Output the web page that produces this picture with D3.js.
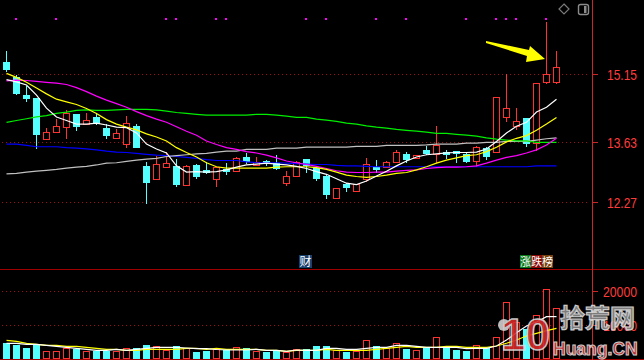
<!DOCTYPE html>
<html>
<head>
<meta charset="utf-8">
<script src="https://cdn.jsdelivr.net/npm/d3@7"></script>
<style>
  html, body { margin: 0; padding: 0; background: #000; }
  svg { display: block; }
</style>
</head>
<body>
<script>
// ---------------- DATA ----------------
const open  = [15.43,15.08,14.68,14.62,13.70,13.86,13.97,14.26,14.03,14.19,13.94,13.72,13.58,13.98,13.09,12.79,13.07,13.09,12.65,13.10,13.00,12.80,13.03,12.97,13.29,13.12,13.20,13.15,12.70,12.87,13.24,13.04,12.87,12.37,12.68,12.53,12.79,13.07,13.06,13.17,13.35,13.27,13.45,13.35,13.41,13.42,13.36,13.19,13.49,13.41,14.20,13.98,14.16,13.60,14.98,14.98];
const high  = [15.67,15.13,14.89,14.62,13.94,14.15,14.35,14.26,14.28,14.25,14.03,13.93,14.21,14.03,13.18,13.31,13.40,13.24,13.10,13.13,13.18,13.06,13.15,13.28,13.39,13.28,13.22,13.33,12.97,13.21,13.24,13.09,12.90,12.59,12.71,12.68,13.27,13.22,13.19,13.45,13.41,13.33,13.54,13.99,13.45,13.42,13.40,13.53,13.52,14.63,15.15,14.39,14.16,14.95,16.32,15.67];
const low   = [15.22,14.71,14.56,13.50,13.70,13.86,13.69,13.90,14.03,14.03,13.72,13.69,13.50,13.52,12.26,12.79,13.07,12.64,12.65,12.81,12.92,12.61,12.90,12.97,13.15,13.11,13.11,13.01,12.64,12.87,12.96,12.77,12.37,12.37,12.53,12.53,12.72,12.96,13.06,13.17,13.17,13.24,13.36,13.15,13.27,13.17,13.18,13.07,13.25,13.41,14.08,13.90,13.54,13.43,14.93,14.93];
const close = [15.27,14.74,14.62,13.81,13.85,13.99,14.28,13.99,14.12,14.05,13.78,13.83,14.05,13.52,12.73,13.13,13.15,12.68,13.09,12.86,12.95,13.06,12.97,13.27,13.21,13.17,13.15,13.04,12.86,13.18,13.11,12.82,12.46,12.59,12.61,12.68,13.13,13.02,13.17,13.40,13.24,13.33,13.38,13.56,13.35,13.37,13.21,13.51,13.31,14.63,14.39,14.10,13.60,14.95,15.15,15.31];
const volume = [4710,4210,3320,4410,2440,2440,3240,2940,2440,2440,2530,2440,3240,3320,4210,3910,2740,3910,3240,2240,2530,3030,2740,3530,3240,2530,2240,2530,2060,2940,2940,3910,3910,2740,2150,2440,5590,3910,3320,4790,3030,2740,3240,6470,3530,2740,2440,4120,3240,6470,16770,10970,9000,13000,20590,15000];

const ma5   = [15.03,14.98,14.91,14.68,14.39,14.19,14.11,14.03,14.03,14.05,14.01,13.96,13.95,13.83,13.58,13.47,13.38,13.09,12.95,12.96,12.95,12.96,13.00,13.06,13.11,13.13,13.15,13.13,13.11,13.08,13.03,12.96,12.90,12.80,12.70,12.67,12.75,12.86,12.97,13.09,13.20,13.29,13.34,13.36,13.38,13.39,13.39,13.40,13.47,13.64,13.83,13.98,14.07,14.30,14.41,14.59];
const ma10  = [15.17,15.08,14.97,14.84,14.71,14.59,14.53,14.47,14.38,14.27,14.13,14.03,13.96,13.90,13.81,13.74,13.65,13.50,13.39,13.29,13.16,13.07,13.04,13.04,13.04,13.04,13.04,13.06,13.07,13.07,13.07,13.05,13.01,12.95,12.88,12.85,12.83,12.85,12.88,12.92,12.94,13.00,13.07,13.15,13.22,13.27,13.32,13.34,13.41,13.51,13.63,13.71,13.77,13.89,14.03,14.18];
const ma20  = [15.00,15.02,15.01,14.99,14.97,14.95,14.92,14.85,14.76,14.66,14.57,14.49,14.41,14.31,14.22,14.14,14.07,13.97,13.87,13.78,13.65,13.57,13.50,13.46,13.41,13.38,13.33,13.27,13.20,13.16,13.12,13.08,13.03,12.98,12.95,12.94,12.94,12.95,12.95,12.97,12.99,13.00,13.03,13.05,13.06,13.06,13.07,13.09,13.15,13.22,13.28,13.32,13.38,13.45,13.56,13.71];
const ma60  = [14.07,14.11,14.15,14.19,14.22,14.27,14.30,14.34,14.35,14.34,14.34,14.35,14.36,14.36,14.36,14.35,14.32,14.29,14.27,14.25,14.23,14.23,14.23,14.23,14.23,14.25,14.25,14.23,14.21,14.18,14.18,14.14,14.12,14.09,14.05,14.03,13.99,13.96,13.94,13.91,13.89,13.87,13.85,13.82,13.82,13.80,13.78,13.76,13.72,13.69,13.67,13.65,13.65,13.62,13.62,13.62];
const ma120 = [12.91,12.92,12.95,12.97,12.99,13.01,13.04,13.06,13.08,13.11,13.15,13.16,13.19,13.22,13.24,13.26,13.30,13.32,13.34,13.36,13.37,13.40,13.42,13.42,13.46,13.46,13.46,13.49,13.49,13.49,13.51,13.51,13.51,13.51,13.51,13.53,13.53,13.53,13.55,13.55,13.55,13.55,13.56,13.58,13.58,13.58,13.60,13.60,13.62,13.62,13.64,13.64,13.64,13.67,13.70,13.72];
const ma250 = [13.58,13.58,13.55,13.52,13.52,13.52,13.50,13.49,13.47,13.45,13.42,13.40,13.39,13.37,13.35,13.33,13.32,13.30,13.28,13.26,13.23,13.21,13.21,13.21,13.18,13.16,13.16,13.16,13.15,13.14,13.13,13.12,13.12,13.10,13.09,13.09,13.08,13.07,13.07,13.07,13.07,13.07,13.07,13.07,13.07,13.07,13.07,13.07,13.07,13.07,13.07,13.07,13.07,13.09,13.09,13.09];

const volMa5  = [4706,4706,4412,4412,4118,3824,3529,3235,2941,2647,2647,2941,2647,2941,3235,3529,3529,3529,3324,3118,3118,2882,2735,2735,2735,2941,2647,2647,2353,2735,2647,2647,3235,3235,2941,2941,3235,3529,3529,4118,4118,3824,3529,3529,3529,3529,3118,3235,3235,3912,5676,7823,9794,10970,12529,12529];
const volMa10 = [5588,5294,4706,4412,4118,4118,3824,3824,3529,3235,2941,2941,2647,2647,2941,2941,2941,2941,3235,3235,2941,3235,2941,2941,2941,2941,2647,2647,2353,2647,2647,2647,2941,2647,2647,2647,2647,2941,3235,3529,3824,3529,3529,3529,3824,3824,3529,3529,3529,3912,4706,5676,6853,7647,8412,9118];

const priceTicks = [15.15, 13.63, 12.27];
const priceTickLabels = ["15.15", "13.63", "12.27"];
const volTicks = [20000, 10000];
const volTickLabels = ["20000", "10000"];
const markerIdx = [1,5,16,17,21,22,30,32,37,40,46,49,50,51,54];

// ---------------- SETUP ----------------
const W = 644, H = 360;
const svg = d3.select("body").append("svg").attr("width", W).attr("height", H)
  .style("background", "#000");
svg.append("rect").attr("width", W).attr("height", H).attr("fill", "#000");

const n = close.length;
const x = d3.scaleLinear().domain([0, n - 1]).range([6.5, 556.5]);
const yP = d3.scaleLinear().domain([12.27, 15.15]).range([202.3, 74.3]);
const yV = d3.scaleLinear().domain([0, 20000]).range([359.3, 291.3]);
const px = v => Math.round(v) + 0.5;

const RED = "#ff3232", CYAN = "#54ffff";
const GRID = "#a01010";

// gridlines (dotted)
const grid = svg.append("g");
priceTicks.forEach(t => {
  grid.append("line").attr("x1", 2).attr("x2", 590).attr("y1", px(yP(t))).attr("y2", px(yP(t)))
    .attr("stroke", GRID).attr("stroke-dasharray", "1,3");
});
volTicks.forEach(t => {
  grid.append("line").attr("x1", 2).attr("x2", 590).attr("y1", px(yV(t))).attr("y2", px(yV(t)))
    .attr("stroke", GRID).attr("stroke-dasharray", "1,3");
});

// ---------------- CANDLES ----------------
const data = d3.range(n).map(i => ({i, o: open[i], h: high[i], l: low[i], c: close[i], v: volume[i]}));
const cg = svg.append("g");
data.forEach(d => {
  const cx = x(d.i);
  const up = d.c >= d.o;
  const yH = Math.round(yP(d.h)), yL = Math.round(yP(d.l));
  const yTop = Math.round(yP(Math.max(d.o, d.c))), yBot = Math.round(yP(Math.min(d.o, d.c)));
  if (up) {
    if (yH < yTop) cg.append("line").attr("x1", cx).attr("x2", cx).attr("y1", yH).attr("y2", yTop).attr("stroke", RED);
    if (yL > yBot) cg.append("line").attr("x1", cx).attr("x2", cx).attr("y1", yBot).attr("y2", yL).attr("stroke", RED);
    cg.append("rect").attr("x", cx - 3).attr("y", yTop + 0.5).attr("width", 6).attr("height", Math.max(1, yBot - yTop))
      .attr("fill", "#000").attr("stroke", RED);
  } else {
    cg.append("line").attr("x1", cx).attr("x2", cx).attr("y1", yH).attr("y2", yL + 1).attr("stroke", CYAN);
    cg.append("rect").attr("x", cx - 3.5).attr("y", yTop).attr("width", 7).attr("height", Math.max(2, yBot - yTop + 1))
      .attr("fill", CYAN);
  }
});

// ---------------- MA LINES ----------------
const lineP = arr => d3.line().x((d, i) => x(i)).y(d => yP(d))(arr);
const lg = svg.append("g").attr("fill", "none").attr("stroke-width", 1.2);
[[ma250, "#0000ff"], [ma120, "#c0c0c0"], [ma60, "#00ee00"], [ma20, "#ff00ff"], [ma10, "#ffff00"], [ma5, "#ffffff"]]
  .forEach(([arr, col]) => lg.append("path").attr("d", lineP(arr)).attr("stroke", col));

// ---------------- VOLUME ----------------
const vg = svg.append("g");
data.forEach(d => {
  const cx = x(d.i);
  const up = d.c >= d.o;
  const yt = Math.round(yV(d.v));
  if (up) {
    vg.append("rect").attr("x", cx - 3).attr("y", yt + 0.5).attr("width", 6).attr("height", 358 - yt)
      .attr("fill", "#000").attr("stroke", RED);
  } else {
    vg.append("rect").attr("x", cx - 3.5).attr("y", yt).attr("width", 7).attr("height", 359 - yt).attr("fill", CYAN);
  }
});
const lineV = arr => d3.line().x((d, i) => x(i)).y(d => yV(d))(arr);
vg.append("path").attr("d", lineV(volMa10)).attr("stroke", "#ffff00").attr("fill", "none").attr("stroke-width", 1.2);
vg.append("path").attr("d", lineV(volMa5)).attr("stroke", "#ffffff").attr("fill", "none").attr("stroke-width", 1.2);

// ---------------- FRAME & AXES ----------------
svg.append("line").attr("x1", 0).attr("x2", W).attr("y1", 269.5).attr("y2", 269.5).attr("stroke", "#a00000");
svg.append("line").attr("x1", 0).attr("x2", W).attr("y1", 359.5).attr("y2", 359.5).attr("stroke", "#a00000");
svg.append("line").attr("x1", 592.5).attr("x2", 592.5).attr("y1", 0).attr("y2", H).attr("stroke", "#c82828");

const ax = svg.append("g").attr("font-family", "'Liberation Sans', Arial, sans-serif").attr("font-size", 14).attr("fill", "#ff3c3c");
priceTicks.forEach((t, k) => {
  const y = px(yP(t));
  ax.append("line").attr("x1", 592).attr("x2", 598).attr("y1", y).attr("y2", y).attr("stroke", "#c82828");
  ax.append("text").attr("x", 607).attr("y", y + 5).attr("textLength", 30).attr("lengthAdjust", "spacingAndGlyphs").text(priceTickLabels[k]);
});
volTicks.forEach((t, k) => {
  const y = px(yV(t));
  ax.append("line").attr("x1", 592).attr("x2", 598).attr("y1", y).attr("y2", y).attr("stroke", "#c82828");
  ax.append("text").attr("x", 603).attr("y", y + 5).attr("textLength", 34).attr("lengthAdjust", "spacingAndGlyphs").text(volTickLabels[k]);
});

// ---------------- MARKERS ----------------
markerIdx.forEach(i => {
  svg.append("rect").attr("x", Math.floor(x(i)) - 1).attr("y", 18).attr("width", 2).attr("height", 2).attr("fill", "#ff00ff");
});

// arrow
svg.append("polygon")
  .attr("points", "486,41 529,50 530,46 545,59 526,62 527,56 486,43")
  .attr("fill", "#ffff00");

// icons top-right
svg.append("path").attr("d", "M564,4 L569,9 L564,14 L559,9 Z").attr("fill", "none").attr("stroke", "#7a7a7a").attr("stroke-width", 1.2);
svg.append("rect").attr("x", 578.5).attr("y", 4.5).attr("width", 10).attr("height", 10).attr("rx", 2).attr("fill", "none").attr("stroke", "#8a8a8a").attr("stroke-width", 1.4);
svg.append("rect").attr("x", 584).attr("y", 6).attr("width", 2.5).attr("height", 7).attr("fill", "#8a8a8a");

// event labels
const cjk = "'Noto Sans CJK SC', sans-serif";
svg.append("rect").attr("x", 299).attr("y", 255).attr("width", 13).attr("height", 13).attr("fill", "#17406e");
svg.append("text").attr("x", 305.5).attr("y", 266).attr("text-anchor", "middle").attr("font-family", cjk).attr("font-size", 12).attr("fill", "#fff").text("财");
const tagCols = ["#0a7a1a", "#8a0a0a", "#7a4010"];
const tagChars = ["涨", "跌", "榜"];
tagChars.forEach((ch, k) => {
  svg.append("rect").attr("x", 520 + k * 11).attr("y", 255).attr("width", 11).attr("height", 13).attr("fill", tagCols[k]);
  svg.append("text").attr("x", 525.5 + k * 11).attr("y", 266).attr("text-anchor", "middle").attr("font-family", cjk).attr("font-size", 11).attr("fill", "#fff").text(ch);
});

// watermark
const wm = svg.append("g").attr("opacity", 0.9);
wm.append("circle").attr("cx", 504).attr("cy", 325).attr("r", 6).attr("fill", "#cfcfcf");
wm.append("text").attr("x", 501).attr("y", 350).attr("font-family", "'Liberation Sans', Arial, sans-serif").attr("font-weight", "bold")
  .attr("font-size", 44).attr("fill", "#d42a2a").attr("stroke", "#d8d8d8").attr("stroke-width", 1.5).text("10");
wm.append("text").attr("x", 560).attr("y", 327).attr("font-family", cjk).attr("font-weight", "bold")
  .attr("font-size", 25).attr("fill", "#8a8a8a").attr("stroke", "#e0e0e0").attr("stroke-width", 1.2).text("拾荒网");
wm.append("text").attr("x", 553).attr("y", 355).attr("font-family", "'Liberation Sans', Arial, sans-serif").attr("font-weight", "bold")
  .attr("font-size", 17.5).attr("fill", "#d42a2a").attr("stroke", "#e0e0e0").attr("stroke-width", 1).text("Huang.CN");
</script>
</body>
</html>
